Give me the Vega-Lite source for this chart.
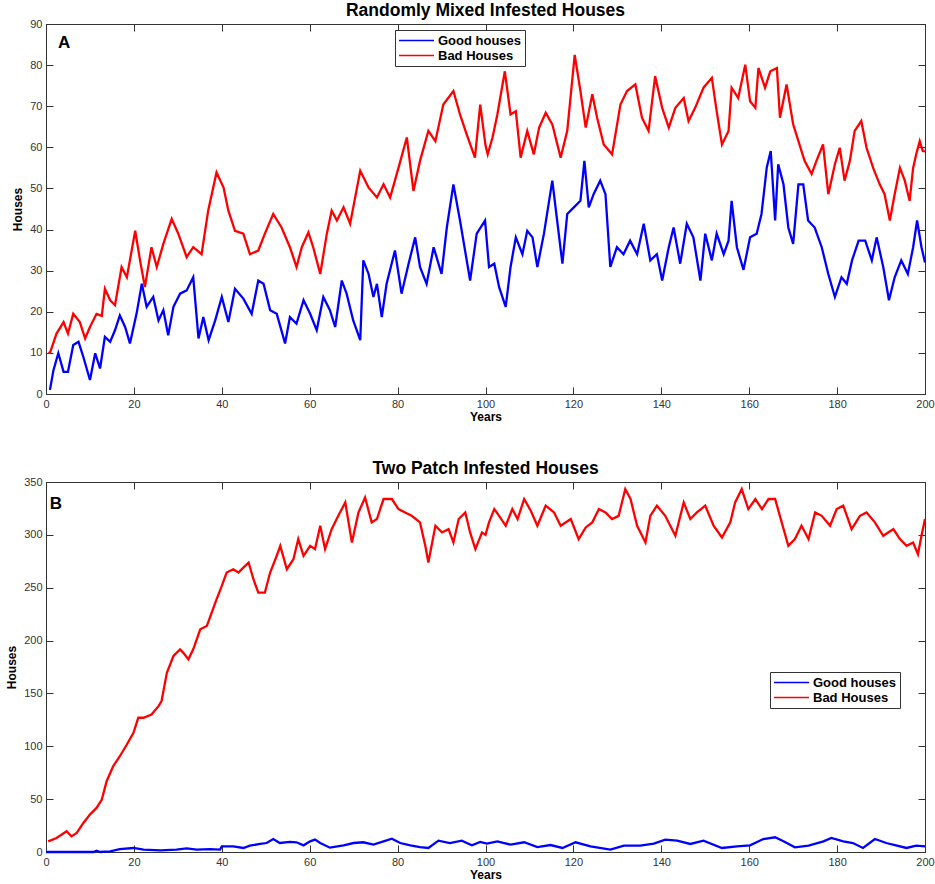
{
  "$schema": "https://vega.github.io/schema/vega-lite/v6.json",
  "background": "white",
  "padding": {"left": 5, "top": 1, "right": 0, "bottom": 0},
  "spacing": 36,
  "config": {
    "font": "Liberation Sans",
    "view": {"stroke": "#333", "strokeWidth": 1},
    "axis": {"grid": false, "domainColor": "#333", "tickColor": "#333", "tickSize": -7, "labelColor": "#333", "labelFontSize": 11, "labelFont": "Liberation Sans", "labelFlush": false, "labelOverlap": false, "labelPadding": 11, "titleFont": "Liberation Sans", "titleFontSize": 12, "titleFontWeight": "bold", "titleColor": "#000"},
    "title": {"font": "Liberation Sans", "fontSize": 17.5, "fontWeight": "bold", "color": "#000", "offset": -1.5},
    "legend": {"labelFont": "Liberation Sans", "labelFontSize": 13, "labelFontWeight": "bold", "labelColor": "#000", "symbolType": "stroke", "symbolSize": 1225, "symbolStrokeWidth": 1.5, "clipHeight": 15, "labelOffset": 3, "padding": 3, "rowPadding": 0, "strokeColor": "#333", "fillColor": "white", "cornerRadius": 0}
  },
  "datasets": {
    "a": [
      {"series":"Bad Houses","year":0.5,"houses":10},{"series":"Bad Houses","year":0.9,"houses":10},{"series":"Bad Houses","year":2.4,"houses":14.7},{"series":"Bad Houses","year":4,"houses":17.5},{"series":"Bad Houses","year":5,"houses":14.7},{"series":"Bad Houses","year":6.2,"houses":19.5},{"series":"Bad Houses","year":7.7,"houses":17.5},{"series":"Bad Houses","year":8.9,"houses":13.5},{"series":"Bad Houses","year":10,"houses":16.3},{"series":"Bad Houses","year":11.5,"houses":19.5},{"series":"Bad Houses","year":12.7,"houses":19},{"series":"Bad Houses","year":13.4,"houses":25.6},{"series":"Bad Houses","year":14.6,"houses":22.8},{"series":"Bad Houses","year":15.7,"houses":21.6},{"series":"Bad Houses","year":17.2,"houses":30.9},{"series":"Bad Houses","year":18.4,"houses":28.4},{"series":"Bad Houses","year":20.3,"houses":39.7},{"series":"Bad Houses","year":21.4,"houses":32.5},{"series":"Bad Houses","year":22.5,"houses":26},{"series":"Bad Houses","year":24,"houses":35.7},{"series":"Bad Houses","year":25.2,"houses":30.9},{"series":"Bad Houses","year":26.7,"houses":36.5},{"series":"Bad Houses","year":28.6,"houses":42.6},{"series":"Bad Houses","year":30.1,"houses":39},{"series":"Bad Houses","year":32,"houses":33.3},{"series":"Bad Houses","year":33.5,"houses":35.7},{"series":"Bad Houses","year":35.4,"houses":34},{"series":"Bad Houses","year":36.9,"houses":44.6},{"series":"Bad Houses","year":38.8,"houses":53.9},{"series":"Bad Houses","year":40.4,"houses":50.2},{"series":"Bad Houses","year":41.5,"houses":44.6},{"series":"Bad Houses","year":43,"houses":39.7},{"series":"Bad Houses","year":44.9,"houses":39},{"series":"Bad Houses","year":46.4,"houses":34},{"series":"Bad Houses","year":48.3,"houses":34.9},{"series":"Bad Houses","year":49.8,"houses":39},{"series":"Bad Houses","year":51.7,"houses":43.8},{"series":"Bad Houses","year":53.6,"houses":40.5},{"series":"Bad Houses","year":55.5,"houses":35.7},{"series":"Bad Houses","year":57,"houses":30.9},{"series":"Bad Houses","year":58.2,"houses":35.7},{"series":"Bad Houses","year":59.7,"houses":39.3},{"series":"Bad Houses","year":60.8,"houses":35.7},{"series":"Bad Houses","year":62.4,"houses":29.2},{"series":"Bad Houses","year":63.9,"houses":39},{"series":"Bad Houses","year":65,"houses":44.6},{"series":"Bad Houses","year":66.2,"houses":42.2},{"series":"Bad Houses","year":67.7,"houses":45.4},{"series":"Bad Houses","year":69.2,"houses":41.4},{"series":"Bad Houses","year":71.5,"houses":54.3},{"series":"Bad Houses","year":73.4,"houses":50.2},{"series":"Bad Houses","year":75.3,"houses":47.8},{"series":"Bad Houses","year":76.8,"houses":51},{"series":"Bad Houses","year":78.3,"houses":47.8},{"series":"Bad Houses","year":80.2,"houses":55},{"series":"Bad Houses","year":82.1,"houses":62.4},{"series":"Bad Houses","year":83.6,"houses":49.4},{"series":"Bad Houses","year":85.1,"houses":56.7},{"series":"Bad Houses","year":87,"houses":64},{"series":"Bad Houses","year":88.6,"houses":61.5},{"series":"Bad Houses","year":90.4,"houses":70.4},{"series":"Bad Houses","year":92.7,"houses":73.7},{"series":"Bad Houses","year":94.2,"houses":68},{"series":"Bad Houses","year":95.7,"houses":63.2},{"series":"Bad Houses","year":97.6,"houses":57.5},{"series":"Bad Houses","year":98.8,"houses":70.4},{"series":"Bad Houses","year":100,"houses":60.5},{"series":"Bad Houses","year":100.5,"houses":58.3},{"series":"Bad Houses","year":101.6,"houses":62.4},{"series":"Bad Houses","year":102.7,"houses":68},{"series":"Bad Houses","year":104.4,"houses":78.5},{"series":"Bad Houses","year":105.7,"houses":68},{"series":"Bad Houses","year":106.9,"houses":68.8},{"series":"Bad Houses","year":108,"houses":57.5},{"series":"Bad Houses","year":109.5,"houses":64},{"series":"Bad Houses","year":111,"houses":58.3},{"series":"Bad Houses","year":112.2,"houses":64.8},{"series":"Bad Houses","year":113.7,"houses":68.4},{"series":"Bad Houses","year":115.2,"houses":65.6},{"series":"Bad Houses","year":117.1,"houses":57.5},{"series":"Bad Houses","year":118.6,"houses":64},{"series":"Bad Houses","year":120.3,"houses":82.5},{"series":"Bad Houses","year":121.6,"houses":73.7},{"series":"Bad Houses","year":122.8,"houses":64.8},{"series":"Bad Houses","year":124.3,"houses":72.9},{"series":"Bad Houses","year":125.4,"houses":67.2},{"series":"Bad Houses","year":126.9,"houses":60.7},{"series":"Bad Houses","year":128.8,"houses":58.3},{"series":"Bad Houses","year":130.7,"houses":70.4},{"series":"Bad Houses","year":132.2,"houses":73.7},{"series":"Bad Houses","year":134.1,"houses":75.3},{"series":"Bad Houses","year":135.6,"houses":67.2},{"series":"Bad Houses","year":137.1,"houses":64},{"series":"Bad Houses","year":138.6,"houses":77.3},{"series":"Bad Houses","year":140.2,"houses":69.6},{"series":"Bad Houses","year":141.7,"houses":64.8},{"series":"Bad Houses","year":143.2,"houses":69.6},{"series":"Bad Houses","year":145.1,"houses":72},{"series":"Bad Houses","year":146.2,"houses":66.4},{"series":"Bad Houses","year":147.7,"houses":69.6},{"series":"Bad Houses","year":149.6,"houses":74.5},{"series":"Bad Houses","year":151.5,"houses":76.9},{"series":"Bad Houses","year":152.6,"houses":68.8},{"series":"Bad Houses","year":153.8,"houses":60.7},{"series":"Bad Houses","year":155.3,"houses":64},{"series":"Bad Houses","year":156,"houses":74.5},{"series":"Bad Houses","year":157.5,"houses":72},{"series":"Bad Houses","year":159.1,"houses":80.1},{"series":"Bad Houses","year":160.2,"houses":71.2},{"series":"Bad Houses","year":161.4,"houses":69.6},{"series":"Bad Houses","year":162.1,"houses":79.3},{"series":"Bad Houses","year":163.6,"houses":74.5},{"series":"Bad Houses","year":164.8,"houses":78.5},{"series":"Bad Houses","year":166.3,"houses":79.3},{"series":"Bad Houses","year":167,"houses":67.2},{"series":"Bad Houses","year":168.5,"houses":75.3},{"series":"Bad Houses","year":170,"houses":65.6},{"series":"Bad Houses","year":171.2,"houses":61.5},{"series":"Bad Houses","year":172.6,"houses":56.7},{"series":"Bad Houses","year":174.2,"houses":53.5},{"series":"Bad Houses","year":175.3,"houses":56.7},{"series":"Bad Houses","year":176.8,"houses":60.7},{"series":"Bad Houses","year":178,"houses":48.6},{"series":"Bad Houses","year":179.5,"houses":55.9},{"series":"Bad Houses","year":180.6,"houses":59.9},{"series":"Bad Houses","year":181.7,"houses":51.9},{"series":"Bad Houses","year":182.9,"houses":56.7},{"series":"Bad Houses","year":184,"houses":64},{"series":"Bad Houses","year":185.5,"houses":66.4},{"series":"Bad Houses","year":186.7,"houses":59.9},{"series":"Bad Houses","year":188.2,"houses":55},{"series":"Bad Houses","year":189.7,"houses":51},{"series":"Bad Houses","year":190.8,"houses":48.6},{"series":"Bad Houses","year":192,"houses":42.2},{"series":"Bad Houses","year":193.1,"houses":48.6},{"series":"Bad Houses","year":194.3,"houses":55},{"series":"Bad Houses","year":195.4,"houses":51.9},{"series":"Bad Houses","year":196.5,"houses":47},{"series":"Bad Houses","year":197.3,"houses":55},{"series":"Bad Houses","year":198,"houses":58.3},{"series":"Bad Houses","year":198.8,"houses":61.5},{"series":"Bad Houses","year":199.5,"houses":59.1},{"series":"Bad Houses","year":200,"houses":59},
      {"series":"Good houses","year":0.9,"houses":1},{"series":"Good houses","year":1.7,"houses":5.8},{"series":"Good houses","year":2.8,"houses":9.9},{"series":"Good houses","year":4,"houses":5.4},{"series":"Good houses","year":5,"houses":5.4},{"series":"Good houses","year":6.2,"houses":11.9},{"series":"Good houses","year":7.4,"houses":12.7},{"series":"Good houses","year":8.5,"houses":9},{"series":"Good houses","year":10,"houses":3.4},{"series":"Good houses","year":11.2,"houses":9.9},{"series":"Good houses","year":12.3,"houses":6.2},{"series":"Good houses","year":13.4,"houses":13.9},{"series":"Good houses","year":14.6,"houses":12.7},{"series":"Good houses","year":15.7,"houses":15.5},{"series":"Good houses","year":16.8,"houses":19.1},{"series":"Good houses","year":18,"houses":16.3},{"series":"Good houses","year":19.1,"houses":12.3},{"series":"Good houses","year":20.6,"houses":19.5},{"series":"Good houses","year":21.8,"houses":26.8},{"series":"Good houses","year":22.9,"houses":21.2},{"series":"Good houses","year":24.4,"houses":23.6},{"series":"Good houses","year":25.6,"houses":17.9},{"series":"Good houses","year":26.7,"houses":20.4},{"series":"Good houses","year":27.8,"houses":14.3},{"series":"Good houses","year":29,"houses":21.2},{"series":"Good houses","year":30.5,"houses":24.4},{"series":"Good houses","year":32,"houses":25.2},{"series":"Good houses","year":33.5,"houses":28.4},{"series":"Good houses","year":34.7,"houses":13.5},{"series":"Good houses","year":35.8,"houses":18.7},{"series":"Good houses","year":37,"houses":13.1},{"series":"Good houses","year":38.5,"houses":17.9},{"series":"Good houses","year":40,"houses":23.6},{"series":"Good houses","year":41.5,"houses":17.5},{"series":"Good houses","year":43,"houses":25.6},{"series":"Good houses","year":44.9,"houses":23.2},{"series":"Good houses","year":46.8,"houses":19.5},{"series":"Good houses","year":48.3,"houses":27.6},{"series":"Good houses","year":49.5,"houses":26.8},{"series":"Good houses","year":51,"houses":20.4},{"series":"Good houses","year":52.5,"houses":19.5},{"series":"Good houses","year":54.4,"houses":12.3},{"series":"Good houses","year":55.5,"houses":18.7},{"series":"Good houses","year":57,"houses":17.1},{"series":"Good houses","year":58.6,"houses":22.8},{"series":"Good houses","year":60.1,"houses":19.5},{"series":"Good houses","year":61.6,"houses":15.5},{"series":"Good houses","year":63.1,"houses":23.6},{"series":"Good houses","year":64.6,"houses":20.4},{"series":"Good houses","year":65.8,"houses":16.3},{"series":"Good houses","year":67.3,"houses":27.6},{"series":"Good houses","year":68.4,"houses":24.4},{"series":"Good houses","year":69.9,"houses":17.9},{"series":"Good houses","year":71.5,"houses":13.1},{"series":"Good houses","year":72.2,"houses":32.5},{"series":"Good houses","year":73.4,"houses":29.2},{"series":"Good houses","year":74.5,"houses":23.6},{"series":"Good houses","year":75.3,"houses":26.8},{"series":"Good houses","year":76.4,"houses":18.7},{"series":"Good houses","year":77.5,"houses":26.8},{"series":"Good houses","year":79.4,"houses":34.9},{"series":"Good houses","year":80.9,"houses":24.4},{"series":"Good houses","year":82.5,"houses":31.7},{"series":"Good houses","year":84,"houses":38.1},{"series":"Good houses","year":85.1,"houses":30.9},{"series":"Good houses","year":86.6,"houses":26.8},{"series":"Good houses","year":88.2,"houses":35.7},{"series":"Good houses","year":90,"houses":29.2},{"series":"Good houses","year":91.2,"houses":40.5},{"series":"Good houses","year":92.7,"houses":51},{"series":"Good houses","year":94.2,"houses":42.2},{"series":"Good houses","year":96.5,"houses":27.6},{"series":"Good houses","year":98,"houses":39},{"series":"Good houses","year":99.9,"houses":42.2},{"series":"Good houses","year":100.8,"houses":30.9},{"series":"Good houses","year":102,"houses":31.7},{"series":"Good houses","year":103.1,"houses":26},{"series":"Good houses","year":104.6,"houses":21.2},{"series":"Good houses","year":105.7,"houses":30.9},{"series":"Good houses","year":106.9,"houses":38.1},{"series":"Good houses","year":108.4,"houses":34},{"series":"Good houses","year":109.5,"houses":39.7},{"series":"Good houses","year":110.7,"houses":38.1},{"series":"Good houses","year":111.8,"houses":30.9},{"series":"Good houses","year":113.3,"houses":39},{"series":"Good houses","year":115.2,"houses":51.9},{"series":"Good houses","year":116.3,"houses":42.2},{"series":"Good houses","year":117.5,"houses":31.7},{"series":"Good houses","year":118.6,"houses":43.8},{"series":"Good houses","year":120.1,"houses":45.4},{"series":"Good houses","year":121.6,"houses":47},{"series":"Good houses","year":122.5,"houses":56.7},{"series":"Good houses","year":123.5,"houses":45.4},{"series":"Good houses","year":124.6,"houses":48.6},{"series":"Good houses","year":126.1,"houses":51.9},{"series":"Good houses","year":127.3,"houses":48.6},{"series":"Good houses","year":128.4,"houses":30.9},{"series":"Good houses","year":129.9,"houses":35.7},{"series":"Good houses","year":131.4,"houses":34},{"series":"Good houses","year":132.9,"houses":37.3},{"series":"Good houses","year":134.5,"houses":34},{"series":"Good houses","year":136,"houses":41.4},{"series":"Good houses","year":137.5,"houses":32.5},{"series":"Good houses","year":139,"houses":34},{"series":"Good houses","year":140.2,"houses":27.6},{"series":"Good houses","year":141.7,"houses":35.7},{"series":"Good houses","year":142.8,"houses":40.5},{"series":"Good houses","year":144.3,"houses":31.7},{"series":"Good houses","year":145.8,"houses":41.4},{"series":"Good houses","year":147.3,"houses":38.1},{"series":"Good houses","year":148.9,"houses":27.6},{"series":"Good houses","year":150,"houses":39},{"series":"Good houses","year":151.5,"houses":32.5},{"series":"Good houses","year":152.6,"houses":39},{"series":"Good houses","year":154.2,"houses":34},{"series":"Good houses","year":155.3,"houses":37.3},{"series":"Good houses","year":156,"houses":47},{"series":"Good houses","year":157.2,"houses":35.7},{"series":"Good houses","year":158.7,"houses":30.2},{"series":"Good houses","year":160.2,"houses":38.1},{"series":"Good houses","year":161.7,"houses":39},{"series":"Good houses","year":162.8,"houses":43.8},{"series":"Good houses","year":164,"houses":55.1},{"series":"Good houses","year":164.9,"houses":59.1},{"series":"Good houses","year":165.9,"houses":42.2},{"series":"Good houses","year":166.6,"houses":55.9},{"series":"Good houses","year":167.8,"houses":51},{"series":"Good houses","year":168.9,"houses":40.5},{"series":"Good houses","year":170,"houses":36.5},{"series":"Good houses","year":171.2,"houses":51},{"series":"Good houses","year":172.3,"houses":51},{"series":"Good houses","year":173.4,"houses":42.2},{"series":"Good houses","year":174.9,"houses":40.5},{"series":"Good houses","year":176.5,"houses":35.7},{"series":"Good houses","year":178,"houses":29.2},{"series":"Good houses","year":179.5,"houses":23.6},{"series":"Good houses","year":181,"houses":28.4},{"series":"Good houses","year":182.2,"houses":26.8},{"series":"Good houses","year":183.4,"houses":32.5},{"series":"Good houses","year":184.9,"houses":37.3},{"series":"Good houses","year":186.4,"houses":37.3},{"series":"Good houses","year":187.9,"houses":32.5},{"series":"Good houses","year":189,"houses":38.1},{"series":"Good houses","year":190.5,"houses":30.9},{"series":"Good houses","year":191.8,"houses":22.8},{"series":"Good houses","year":193.1,"houses":28.4},{"series":"Good houses","year":194.6,"houses":32.5},{"series":"Good houses","year":196.1,"houses":29.2},{"series":"Good houses","year":197.3,"houses":35.7},{"series":"Good houses","year":198.2,"houses":42.2},{"series":"Good houses","year":199.2,"houses":35.7},{"series":"Good houses","year":200,"houses":32}
    ],
    "b": [
      {"series":"Bad Houses","year":0.5,"houses":10},{"series":"Bad Houses","year":2.4,"houses":13.3},{"series":"Bad Houses","year":4.7,"houses":19.6},{"series":"Bad Houses","year":5.8,"houses":14.8},{"series":"Bad Houses","year":7,"houses":18},{"series":"Bad Houses","year":8.5,"houses":27.5},{"series":"Bad Houses","year":10,"houses":35.4},{"series":"Bad Houses","year":11.5,"houses":41.7},{"series":"Bad Houses","year":12.7,"houses":49.6},{"series":"Bad Houses","year":13.8,"houses":67},{"series":"Bad Houses","year":15.3,"houses":81.2},{"series":"Bad Houses","year":16.8,"houses":90.6},{"series":"Bad Houses","year":18.4,"houses":101.7},{"series":"Bad Houses","year":19.9,"houses":112.8},{"series":"Bad Houses","year":21,"houses":127},{"series":"Bad Houses","year":22.2,"houses":127},{"series":"Bad Houses","year":24,"houses":130},{"series":"Bad Houses","year":25.6,"houses":138},{"series":"Bad Houses","year":26.3,"houses":142.8},{"series":"Bad Houses","year":27.5,"houses":169.6},{"series":"Bad Houses","year":29,"houses":185.4},{"series":"Bad Houses","year":30.5,"houses":191.7},{"series":"Bad Houses","year":31.2,"houses":188.6},{"series":"Bad Houses","year":32.4,"houses":182.3},{"series":"Bad Houses","year":33.5,"houses":191.7},{"series":"Bad Houses","year":35.1,"houses":210.7},{"series":"Bad Houses","year":36.6,"houses":213.8},{"series":"Bad Houses","year":37.7,"houses":226.5},{"series":"Bad Houses","year":38.8,"houses":239},{"series":"Bad Houses","year":40,"houses":251.7},{"series":"Bad Houses","year":41.1,"houses":264.4},{"series":"Bad Houses","year":42.6,"houses":267.5},{"series":"Bad Houses","year":43.8,"houses":264.4},{"series":"Bad Houses","year":44.9,"houses":269},{"series":"Bad Houses","year":46.1,"houses":273.8},{"series":"Bad Houses","year":47.2,"houses":258},{"series":"Bad Houses","year":48.3,"houses":245.4},{"series":"Bad Houses","year":49.8,"houses":245.4},{"series":"Bad Houses","year":51,"houses":264.4},{"series":"Bad Houses","year":52.5,"houses":280.2},{"series":"Bad Houses","year":53.3,"houses":289.6},{"series":"Bad Houses","year":54.8,"houses":267.5},{"series":"Bad Houses","year":56.3,"houses":277},{"series":"Bad Houses","year":57.4,"houses":296},{"series":"Bad Houses","year":58.6,"houses":280.2},{"series":"Bad Houses","year":60.1,"houses":289.6},{"series":"Bad Houses","year":61.2,"houses":286.5},{"series":"Bad Houses","year":62.4,"houses":308.6},{"series":"Bad Houses","year":63.5,"houses":286.5},{"series":"Bad Houses","year":65,"houses":305.4},{"series":"Bad Houses","year":66.5,"houses":318},{"series":"Bad Houses","year":68.1,"houses":330.7},{"series":"Bad Houses","year":69.6,"houses":292.8},{"series":"Bad Houses","year":71.1,"houses":321.2},{"series":"Bad Houses","year":72.6,"houses":335.4},{"series":"Bad Houses","year":74.1,"houses":311.8},{"series":"Bad Houses","year":75.3,"houses":315},{"series":"Bad Houses","year":76.8,"houses":333.9},{"series":"Bad Houses","year":78.7,"houses":333.9},{"series":"Bad Houses","year":80.2,"houses":324.4},{"series":"Bad Houses","year":81.7,"houses":321.2},{"series":"Bad Houses","year":83.2,"houses":318},{"series":"Bad Houses","year":85.1,"houses":311.8},{"series":"Bad Houses","year":86.3,"houses":289.6},{"series":"Bad Houses","year":87,"houses":273.8},{"series":"Bad Houses","year":88.6,"houses":308.6},{"series":"Bad Houses","year":90.1,"houses":302.3},{"series":"Bad Houses","year":91.6,"houses":305.4},{"series":"Bad Houses","year":92.7,"houses":292.8},{"series":"Bad Houses","year":93.9,"houses":315},{"series":"Bad Houses","year":95.4,"houses":321.2},{"series":"Bad Houses","year":96.5,"houses":302.3},{"series":"Bad Houses","year":97.7,"houses":286.5},{"series":"Bad Houses","year":99.2,"houses":302.3},{"series":"Bad Houses","year":100,"houses":300},{"series":"Bad Houses","year":100.8,"houses":311.8},{"series":"Bad Houses","year":102,"houses":324.4},{"series":"Bad Houses","year":103.1,"houses":318},{"series":"Bad Houses","year":104.6,"houses":308.6},{"series":"Bad Houses","year":106.1,"houses":324.4},{"series":"Bad Houses","year":107.3,"houses":315},{"series":"Bad Houses","year":108.8,"houses":333.9},{"series":"Bad Houses","year":110.3,"houses":322.8},{"series":"Bad Houses","year":111.8,"houses":308.6},{"series":"Bad Houses","year":113.7,"houses":327.6},{"series":"Bad Houses","year":115.6,"houses":321.2},{"series":"Bad Houses","year":117.1,"houses":308.6},{"series":"Bad Houses","year":119.4,"houses":315},{"series":"Bad Houses","year":121.2,"houses":296},{"series":"Bad Houses","year":122.8,"houses":307},{"series":"Bad Houses","year":124.3,"houses":311.8},{"series":"Bad Houses","year":125.8,"houses":324.4},{"series":"Bad Houses","year":127.3,"houses":321.2},{"series":"Bad Houses","year":128.8,"houses":315},{"series":"Bad Houses","year":130.3,"houses":318},{"series":"Bad Houses","year":131.8,"houses":343.3},{"series":"Bad Houses","year":133,"houses":333.9},{"series":"Bad Houses","year":134.5,"houses":308.6},{"series":"Bad Houses","year":136.4,"houses":292.8},{"series":"Bad Houses","year":137.5,"houses":318},{"series":"Bad Houses","year":139,"houses":327.6},{"series":"Bad Houses","year":140.9,"houses":318},{"series":"Bad Houses","year":143.2,"houses":299.1},{"series":"Bad Houses","year":145.1,"houses":330.7},{"series":"Bad Houses","year":146.6,"houses":315},{"series":"Bad Houses","year":148.1,"houses":321.2},{"series":"Bad Houses","year":150,"houses":327.6},{"series":"Bad Houses","year":151.9,"houses":308.6},{"series":"Bad Houses","year":153.8,"houses":297.5},{"series":"Bad Houses","year":155.7,"houses":311.8},{"series":"Bad Houses","year":156.8,"houses":330.7},{"series":"Bad Houses","year":158.3,"houses":343.3},{"series":"Bad Houses","year":159.8,"houses":324.4},{"series":"Bad Houses","year":161.4,"houses":333.9},{"series":"Bad Houses","year":162.9,"houses":324.4},{"series":"Bad Houses","year":164.4,"houses":333.9},{"series":"Bad Houses","year":165.9,"houses":333.9},{"series":"Bad Houses","year":167.4,"houses":311.8},{"series":"Bad Houses","year":168.9,"houses":289.6},{"series":"Bad Houses","year":170.4,"houses":296},{"series":"Bad Houses","year":171.9,"houses":308.6},{"series":"Bad Houses","year":173.5,"houses":296},{"series":"Bad Houses","year":175,"houses":321.2},{"series":"Bad Houses","year":176.5,"houses":318},{"series":"Bad Houses","year":178.4,"houses":308.6},{"series":"Bad Houses","year":179.9,"houses":324.4},{"series":"Bad Houses","year":181.4,"houses":327.6},{"series":"Bad Houses","year":183.3,"houses":305.4},{"series":"Bad Houses","year":185.2,"houses":318},{"series":"Bad Houses","year":186.7,"houses":321.2},{"series":"Bad Houses","year":188.6,"houses":311.8},{"series":"Bad Houses","year":190.5,"houses":299.1},{"series":"Bad Houses","year":192.8,"houses":305.4},{"series":"Bad Houses","year":194.3,"houses":296},{"series":"Bad Houses","year":195.8,"houses":289.6},{"series":"Bad Houses","year":197.3,"houses":292.8},{"series":"Bad Houses","year":198.4,"houses":281.7},{"series":"Bad Houses","year":199.2,"houses":299.1},{"series":"Bad Houses","year":200,"houses":315},
      {"series":"Good houses","year":0,"houses":0},{"series":"Good houses","year":10.8,"houses":0},{"series":"Good houses","year":11.5,"houses":1.2},{"series":"Good houses","year":12.3,"houses":0},{"series":"Good houses","year":14.6,"houses":0.6},{"series":"Good houses","year":16.8,"houses":2.8},{"series":"Good houses","year":19.9,"houses":3.8},{"series":"Good houses","year":22.2,"houses":2.2},{"series":"Good houses","year":26,"houses":1.6},{"series":"Good houses","year":29.7,"houses":2.2},{"series":"Good houses","year":32,"houses":3.5},{"series":"Good houses","year":34.3,"houses":2.2},{"series":"Good houses","year":37.3,"houses":2.8},{"series":"Good houses","year":39.6,"houses":2.2},{"series":"Good houses","year":40,"houses":5.4},{"series":"Good houses","year":42.6,"houses":5.4},{"series":"Good houses","year":44.9,"houses":3.8},{"series":"Good houses","year":46.4,"houses":6},{"series":"Good houses","year":48.7,"houses":7.6},{"series":"Good houses","year":50.2,"houses":8.5},{"series":"Good houses","year":51.7,"houses":12.3},{"series":"Good houses","year":53.2,"houses":8.5},{"series":"Good houses","year":55.5,"houses":9.5},{"series":"Good houses","year":57,"houses":9.2},{"series":"Good houses","year":58.6,"houses":6.3},{"series":"Good houses","year":60.1,"houses":10.1},{"series":"Good houses","year":61.2,"houses":11.7},{"series":"Good houses","year":62.4,"houses":8.5},{"series":"Good houses","year":64.6,"houses":4.1},{"series":"Good houses","year":67.7,"houses":6.3},{"series":"Good houses","year":70,"houses":8.5},{"series":"Good houses","year":72.2,"houses":9.2},{"series":"Good houses","year":74.5,"houses":7},{"series":"Good houses","year":76.8,"houses":10.1},{"series":"Good houses","year":78.7,"houses":12.6},{"series":"Good houses","year":80.6,"houses":8.5},{"series":"Good houses","year":82.9,"houses":6.3},{"series":"Good houses","year":85.1,"houses":4.7},{"series":"Good houses","year":87,"houses":3.8},{"series":"Good houses","year":89.3,"houses":10.7},{"series":"Good houses","year":91.9,"houses":8.5},{"series":"Good houses","year":94.6,"houses":10.7},{"series":"Good houses","year":96.9,"houses":6.3},{"series":"Good houses","year":98.8,"houses":9.5},{"series":"Good houses","year":100.3,"houses":7.9},{"series":"Good houses","year":102.7,"houses":10.1},{"series":"Good houses","year":105.7,"houses":7},{"series":"Good houses","year":108.8,"houses":9.2},{"series":"Good houses","year":111.8,"houses":4.7},{"series":"Good houses","year":114.8,"houses":6.6},{"series":"Good houses","year":117.5,"houses":3.8},{"series":"Good houses","year":120.5,"houses":9.2},{"series":"Good houses","year":123.9,"houses":5.4},{"series":"Good houses","year":128.4,"houses":2.2},{"series":"Good houses","year":131.5,"houses":6},{"series":"Good houses","year":135.2,"houses":6},{"series":"Good houses","year":138.3,"houses":7.9},{"series":"Good houses","year":140.9,"houses":11.7},{"series":"Good houses","year":143.6,"houses":10.7},{"series":"Good houses","year":146.6,"houses":7.6},{"series":"Good houses","year":149.6,"houses":10.7},{"series":"Good houses","year":153.8,"houses":3.8},{"series":"Good houses","year":157.2,"houses":5.4},{"series":"Good houses","year":160.2,"houses":6.3},{"series":"Good houses","year":163.2,"houses":12.3},{"series":"Good houses","year":165.9,"houses":13.9},{"series":"Good houses","year":167.8,"houses":10.1},{"series":"Good houses","year":170.4,"houses":4.4},{"series":"Good houses","year":173.5,"houses":6},{"series":"Good houses","year":176.9,"houses":10.1},{"series":"Good houses","year":178.7,"houses":13.3},{"series":"Good houses","year":181.4,"houses":10.1},{"series":"Good houses","year":183.6,"houses":8.5},{"series":"Good houses","year":185.9,"houses":3.8},{"series":"Good houses","year":188.6,"houses":12.3},{"series":"Good houses","year":191.2,"houses":8.5},{"series":"Good houses","year":193.4,"houses":6.3},{"series":"Good houses","year":195.8,"houses":3.8},{"series":"Good houses","year":198,"houses":6},{"series":"Good houses","year":200,"houses":5.4}
    ]
  },
  "vconcat": [
    {
      "title": "Randomly Mixed Infested Houses",
      "width": 879,
      "height": 370,
      "layer": [
        {
          "data": {"name": "a"},
          "mark": {"type": "line", "strokeWidth": 2.3},
          "encoding": {
            "x": {"field": "year", "type": "quantitative", "scale": {"domain": [0, 200], "nice": false, "zero": false}, "axis": {"values": [0,20,40,60,80,100,120,140,160,180,200], "title": "Years", "titlePadding": 2}},
            "y": {"field": "houses", "type": "quantitative", "scale": {"domain": [0, 90], "nice": false}, "axis": {"values": [0,10,20,30,40,50,60,70,80,90], "title": "Houses", "titlePadding": 5}},
            "color": {"field": "series", "type": "nominal", "scale": {"domain": ["Good houses", "Bad Houses"], "range": ["#0000ff", "#ff0000"]}, "legend": {"orient": "none", "legendX": 349, "legendY": 6, "title": null}}
          }
        },
        {
          "data": {"values": [{}]},
          "mark": {"type": "text", "text": "A", "align": "left", "baseline": "alphabetic", "fontSize": 17, "fontWeight": "bold", "color": "#000"},
          "encoding": {
            "x": {"datum": 2.73, "type": "quantitative", "scale": {"domain": [0, 200], "nice": false, "zero": false}, "axis": {"orient": "top", "values": [0,20,40,60,80,100,120,140,160,180,200], "labels": false, "title": null}},
            "y": {"datum": 84.2, "type": "quantitative", "scale": {"domain": [0, 90], "nice": false}, "axis": {"orient": "right", "values": [0,10,20,30,40,50,60,70,80,90], "labels": false, "title": null}}
          }
        }
      ],
      "resolve": {"axis": {"x": "independent", "y": "independent"}}
    },
    {
      "title": "Two Patch Infested Houses",
      "width": 879,
      "height": 370,
      "layer": [
        {
          "data": {"name": "b"},
          "mark": {"type": "line", "strokeWidth": 2.3},
          "encoding": {
            "x": {"field": "year", "type": "quantitative", "scale": {"domain": [0, 200], "nice": false, "zero": false}, "axis": {"values": [0,20,40,60,80,100,120,140,160,180,200], "title": "Years", "titlePadding": 2}},
            "y": {"field": "houses", "type": "quantitative", "scale": {"domain": [0, 350], "nice": false}, "axis": {"values": [0,50,100,150,200,250,300,350], "title": "Houses", "titlePadding": 5}},
            "color": {"field": "series", "type": "nominal", "scale": {"domain": ["Good houses", "Bad Houses"], "range": ["#0000ff", "#ff0000"]}, "legend": {"orient": "none", "legendX": 724, "legendY": 190, "title": null}}
          }
        },
        {
          "data": {"values": [{}]},
          "mark": {"type": "text", "text": "B", "align": "left", "baseline": "alphabetic", "fontSize": 17, "fontWeight": "bold", "color": "#000"},
          "encoding": {
            "x": {"datum": 0.84, "type": "quantitative", "scale": {"domain": [0, 200], "nice": false, "zero": false}, "axis": {"orient": "top", "values": [0,20,40,60,80,100,120,140,160,180,200], "labels": false, "title": null}},
            "y": {"datum": 324.8, "type": "quantitative", "scale": {"domain": [0, 350], "nice": false}, "axis": {"orient": "right", "values": [0,50,100,150,200,250,300,350], "labels": false, "title": null}}
          }
        }
      ],
      "resolve": {"axis": {"x": "independent", "y": "independent"}}
    }
  ],
  "resolve": {"legend": {"color": "independent"}}
}
